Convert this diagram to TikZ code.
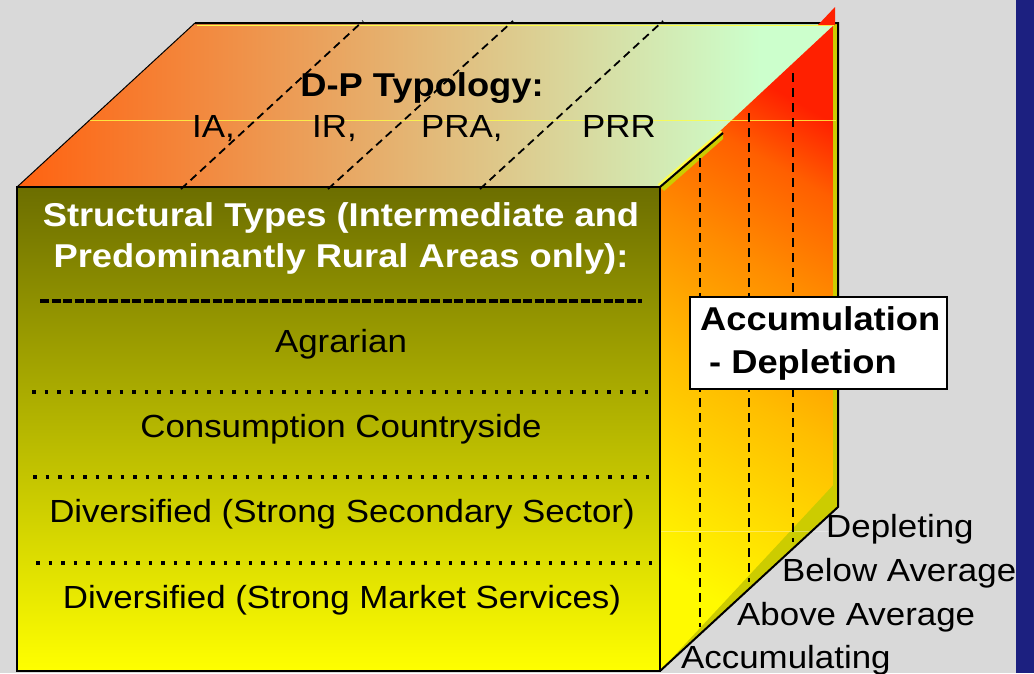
\documentclass[tikz,border=0pt]{standalone}
\usepackage{fontspec}
\setmainfont{Liberation Sans}
\newfontfamily\regfont[FakeStretch=1.09]{Liberation Sans}
\newfontfamily\bldfont[FakeStretch=1.1]{Liberation Sans}
\definecolor{bg}{RGB}{217,217,217}
\definecolor{navy}{RGB}{28,32,128}
\definecolor{olivetop}{RGB}{108,110,0}
\definecolor{yellowbot}{RGB}{255,255,0}
\definecolor{toporange}{RGB}{255,98,16}
\definecolor{topgreen}{RGB}{204,255,204}
\definecolor{rfred}{RGB}{255,32,0}
\definecolor{rfa}{RGB}{255,95,0}
\definecolor{rfmid}{RGB}{255,140,0}
\definecolor{rfb}{RGB}{255,190,0}
\definecolor{rfyellow}{RGB}{255,250,0}
\definecolor{bevel}{RGB}{204,204,0}
\definecolor{hilite}{RGB}{255,255,70}
\pgfdeclarehorizontalshading{rfshade}{100bp}{color(0bp)=(rfyellow); color(25bp)=(rfyellow); color(45bp)=(rfb); color(58bp)=(rfmid); color(68bp)=(rfa); color(75bp)=(rfred); color(100bp)=(rfred)}
\begin{document}
\begin{tikzpicture}[x=1pt,y=-1pt,
  reg/.style={font=\regfont\fontsize{32}{38}\selectfont, inner sep=0pt, text=black},
  bld/.style={font=\bldfont\bfseries\fontsize{33}{40}\selectfont, inner sep=0pt, text=black},
  edge/.style={draw=black, line width=2pt},
  topdash/.style={draw=black, line width=1.8pt, dash pattern=on 8pt off 5pt},
  sidedash/.style={draw=black, line width=2.5pt, dash pattern=on 9pt off 6pt},
  dotrow/.style={draw=black, line width=3.6pt, dash pattern=on 3.6pt off 8.9pt},
  dashrow/.style={draw=black, line width=3.5pt, dash pattern=on 9pt off 2.5pt},
]
\useasboundingbox (0,0) rectangle (1034,673);
\fill[bg] (0,0) rectangle (1034,673);
\fill[navy] (1016,0) rectangle (1034,673);

% top face
\begin{scope}
\clip (17,187) -- (195,23) -- (838,23) -- (660,187) -- cycle;
\shade[left color=toporange, right color=topgreen] (17,23) rectangle (760,187);
\fill[topgreen] (759,23) rectangle (840,187);
\end{scope}

% right face
\begin{scope}
\clip (660,187) -- (835,24) -- (838,24) -- (838,507) -- (660,671) -- cycle;
\shade[shading=rfshade, shading angle=60] (660,23) rectangle (838,671);
\fill[bevel] (838,480) -- (838,507) -- (660,671) -- cycle;
\fill[bevel] (833,24) rectangle (838,507);
\fill[bevel] (660,187) -- (723,133) -- (723,139) -- (664,191) -- cycle;
\end{scope}

% faint lines
\draw[hilite, line width=0.8pt, opacity=0.8] (90,120) -- (836,120);
\draw[white, line width=0.8pt, opacity=0.35] (19,531) -- (836,531);

% front face
\shade[top color=olivetop, bottom color=yellowbot] (17,187) rectangle (660,671);

% edges
\draw[hilite, line width=1.2pt] (197,25.5) -- (834,25.5);
\draw[hilite, line width=2pt] (658.4,185.1) -- (721.4,131.1);
\draw[black, line width=1pt] (17,187) -- (195,23);
\draw[edge] (195,23) -- (838,23) -- (838,507) -- (660,671);
\draw[edge] (660,187) -- (723,133);
\draw[edge] (17,187) rectangle (660,671);
\fill[rfred] (818,25) -- (835,7) -- (835,25) -- cycle;

% dashed lines on top face
\draw[topdash] (181,189) -- (363,21);
\draw[topdash] (328,189) -- (513,21);
\draw[topdash] (480,189) -- (663,21);

% dashed lines on right face
\draw[sidedash] (700,158) -- (700,627);
\draw[sidedash] (749,113) -- (749,582);
\draw[sidedash] (793,73) -- (793,542);

% top face texts
\node[bld, anchor=base] (dp) at (422,96) {D-P Typology:};
\node[reg, anchor=base west] (ia) at (192,137) {IA,};
\node[reg, anchor=base west] (ir) at (312,137) {IR,};
\node[reg, anchor=base west] (pra) at (421,137) {PRA,};
\node[reg, anchor=base west] (prr) at (582,137) {PRR};

% front face texts
\node[bld, text=white, anchor=base] (t1) at (341,226) {Structural Types (Intermediate and};
\node[bld, text=white, anchor=base] (t2) at (341,267) {Predominantly Rural Areas only):};
\draw[dashrow] (40,301) -- (642,301);
\node[reg, anchor=base] (agr) at (341,352) {Agrarian};
\draw[dotrow] (32,392) -- (652,392);
\node[reg, anchor=base] (cons) at (341,437) {Consumption Countryside};
\draw[dotrow] (33,477) -- (652,477);
\node[reg, anchor=base] (div1) at (342,522) {Diversified (Strong Secondary Sector)};
\draw[dotrow] (36,563) -- (652,563);
\node[reg, anchor=base] (div2) at (342,608) {Diversified (Strong Market Services)};

% box
\node[draw=black, line width=2pt, fill=white, minimum width=257pt, minimum height=92pt, anchor=north west, inner sep=0pt] (box) at (689,296) {};
\node[bld, anchor=base west] (acc) at (700,330) {Accumulation};
\node[bld, anchor=base west] (dep) at (709,373) {- Depletion};

% side labels
\node[reg, anchor=base west] (l1) at (826,537) {Depleting};
\node[reg, anchor=base west] (l2) at (782,581) {Below Average};
\node[reg, anchor=base west] (l3) at (737,625) {Above Average};
\node[reg, anchor=base west] (l4) at (681,668) {Accumulating};
\end{tikzpicture}
\end{document}
